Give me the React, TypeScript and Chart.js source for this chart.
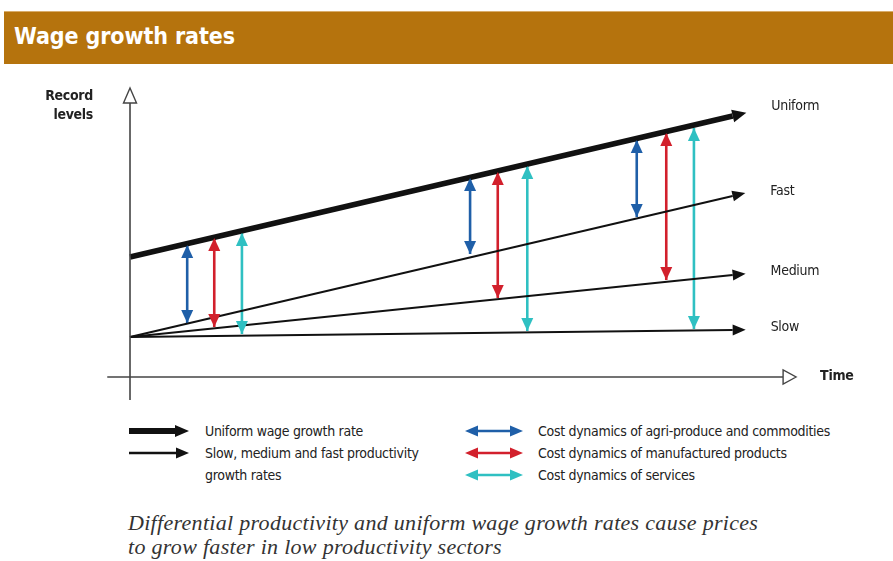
import React, { useEffect, useRef } from "react";
import { Chart, registerables } from "chart.js";

Chart.register(...registerables);

// ---- Data (conceptual units: time along x, level along y) ----
const lineNames = ["Uniform", "Fast", "Medium", "Slow"];
const lineStartX = [0, 0, 0, 0];
const lineStartY = [12, 4, 4, 4];
const lineEndX = [9.8, 9.8, 9.8, 9.8];
const lineEndY = [26.1, 18.1, 10.2, 4.7];

const sectorNames = [
  "Cost dynamics of agri-produce and commodities",
  "Cost dynamics of manufactured products",
  "Cost dynamics of services",
];
const arrowX = [
  [0.93, 5.53, 8.24],
  [1.37, 5.98, 8.72],
  [1.82, 6.46, 9.17],
];
const arrowTop = [
  [13.2, 19.9, 23.7],
  [13.9, 20.5, 24.4],
  [14.4, 21.1, 24.9],
];
const arrowBottom = [
  [5.4, 12.3, 16.0],
  [5.0, 7.9, 9.7],
  [4.3, 4.6, 4.8],
];

const yAxisRange = [-2.3, 27.4];
const xAxisRange = [-0.37, 10.62];

const lineLegend = ["Uniform wage growth rate", "Slow, medium and fast productivity", "growth rates"];

// ---- Styles ----
const SANS = '"DejaVu Sans Condensed", "Liberation Sans Narrow", "Roboto", sans-serif';
const SERIF = '"Liberation Serif", "DejaVu Serif", serif';
const sectorColors = ["#1f5fa8", "#d2202c", "#2fc0c2"];
const BAND = "#b5730d";

const arrowPlugin = {
  id: "arrowheads",
  afterDatasetsDraw(chart: any) {
    const ctx = chart.ctx;
    chart.data.datasets.forEach((ds: any, i: number) => {
      const meta = chart.getDatasetMeta(i);
      const pts = meta.data;
      if (!ds.arrow || pts.length < 2) return;
      const head = (px: number, py: number, qx: number, qy: number, extend: boolean) => {
        let dx = px - qx, dy = py - qy;
        const d = Math.hypot(dx, dy) || 1;
        dx /= d; dy /= d;
        const L = ds.headLen, W = ds.headW / 2;
        let tx, ty, bx, by;
        if (extend) { bx = px; by = py; tx = px + dx * L; ty = py + dy * L; }
        else { tx = px; ty = py; bx = px - dx * L; by = py - dy * L; }
        const nx = -dy, ny = dx;
        ctx.save();
        ctx.beginPath();
        ctx.moveTo(tx, ty);
        ctx.lineTo(bx + nx * W, by + ny * W);
        ctx.lineTo(bx - nx * W, by - ny * W);
        ctx.closePath();
        if (ds.open) {
          ctx.fillStyle = "#fff";
          ctx.fill();
          ctx.lineWidth = 1.4;
          ctx.strokeStyle = ds.borderColor;
          ctx.stroke();
        } else {
          ctx.fillStyle = ds.borderColor;
          ctx.fill();
        }
        ctx.restore();
        return { x: tx, y: ty };
      };
      const n = pts.length;
      const last = pts[n - 1], prev = pts[n - 2];
      if (ds.arrow === "both") {
        head(last.x, last.y, prev.x, prev.y, false);
        head(pts[0].x, pts[0].y, pts[1].x, pts[1].y, false);
      } else {
        const tip = head(last.x, last.y, prev.x, prev.y, true);
        if (ds.endLabel) {
          ctx.save();
          ctx.font = ds.endFont || `14px ${SANS}`;
          (ctx as any).letterSpacing = "-0.3px";
          ctx.fillStyle = "#222";
          ctx.textBaseline = "middle";
          ctx.textAlign = "left";
          ctx.fillText(ds.endLabel, tip.x + ds.labelDx, tip.y + ds.labelDy);
          ctx.restore();
        }
      }
    });
    const xs = chart.scales.x, ys = chart.scales.y;
    ctx.save();
    ctx.font = `bold 14px ${SANS}`;
    (ctx as any).letterSpacing = "-0.3px";
    ctx.fillStyle = "#222";
    ctx.textAlign = "right";
    ctx.textBaseline = "middle";
    const ax = xs.getPixelForValue(0) - 37;
    const top = ys.getPixelForValue(yAxisRange[1]);
    ctx.fillText("Record", ax, top - 7);
    ctx.fillText("levels", ax, top + 12);
    ctx.restore();
  },
};

function LegendArrow({ kind, color }: { kind: string; color: string }) {
  if (kind === "thick")
    return (
      <svg width="60" height="14" style={{ display: "block" }}>
        <line x1="0" y1="7" x2="47" y2="7" stroke={color} strokeWidth="6" />
        <polygon points="60,7 46,1 46,13" fill={color} />
      </svg>
    );
  if (kind === "thin")
    return (
      <svg width="60" height="14" style={{ display: "block" }}>
        <line x1="0" y1="7" x2="48" y2="7" stroke={color} strokeWidth="2.5" />
        <polygon points="60,7 47,1.5 47,12.5" fill={color} />
      </svg>
    );
  return (
    <svg width="58" height="14" style={{ display: "block" }}>
      <line x1="10" y1="7" x2="48" y2="7" stroke={color} strokeWidth="2.5" />
      <polygon points="0,7 13,1.5 13,12.5" fill={color} />
      <polygon points="58,7 45,1.5 45,12.5" fill={color} />
    </svg>
  );
}

export default function App() {
  const ref = useRef<HTMLCanvasElement>(null);
  useEffect(() => {
    if (!ref.current) return;
    const datasets: any[] = [];
    datasets.push({
      label: "y-axis",
      data: [{ x: 0, y: yAxisRange[0] }, { x: 0, y: yAxisRange[1] }],
      borderColor: "#444",
      borderWidth: 1.6,
      pointRadius: 0,
      arrow: "end",
      open: true,
      headLen: 15,
      headW: 13,
    });
    datasets.push({
      label: "x-axis",
      data: [{ x: xAxisRange[0], y: 0 }, { x: xAxisRange[1], y: 0 }],
      borderColor: "#444",
      borderWidth: 1.6,
      pointRadius: 0,
      arrow: "end",
      open: true,
      headLen: 13,
      headW: 14,
      endLabel: "Time",
      endFont: `bold 14px ${SANS}`,
      labelDx: 24,
      labelDy: -1,
    });
    lineNames.forEach((name, i) => {
      datasets.push({
        label: name,
        data: [
          { x: lineStartX[i], y: lineStartY[i] },
          { x: lineEndX[i], y: lineEndY[i] },
        ],
        borderColor: "#111",
        borderWidth: i === 0 ? 5.5 : 2,
        pointRadius: 0,
        arrow: "end",
        headLen: i === 0 ? 14 : 13,
        headW: i === 0 ? 13 : 11,
        endLabel: name,
        labelDx: 25,
        labelDy: i === 0 ? -6 : -2,
      });
    });
    sectorNames.forEach((name, s) => {
      arrowX[s].forEach((x, k) => {
        datasets.push({
          label: `${name} ${k + 1}`,
          data: [
            { x, y: arrowBottom[s][k] },
            { x, y: arrowTop[s][k] },
          ],
          borderColor: sectorColors[s],
          borderWidth: 2.6,
          pointRadius: 0,
          arrow: "both",
          headLen: 13,
          headW: 12,
        });
      });
    });
    const chart = new Chart(ref.current, {
      type: "line",
      data: { datasets },
      plugins: [arrowPlugin],
      options: {
        animation: false,
        responsive: true,
        maintainAspectRatio: false,
        layout: { padding: 0 },
        events: [],
        plugins: { legend: { display: false }, tooltip: { enabled: false } },
        scales: {
          x: { type: "linear", min: -2.114, max: 12.407, display: false },
          y: { type: "linear", min: -3.3, max: 30.7, display: false },
        },
      },
    } as any);
    return () => chart.destroy();
  }, []);

  const legendText: React.CSSProperties = {
    position: "absolute",
    font: `14px ${SANS}`,
    letterSpacing: "-0.3px",
    color: "#222",
    whiteSpace: "nowrap",
    lineHeight: "22px",
  };

  return (
    <div
      style={{
        position: "absolute",
        left: 0,
        top: 0,
        width: 893,
        height: 561,
        background: "#fff",
        overflow: "hidden",
      }}
    >
      <div
        style={{
          position: "absolute",
          left: 4,
          top: 11,
          width: 889,
          height: 52,
          background: BAND,
          borderTop: "1px solid #d8ad6c",
        }}
      >
        <span
          style={{
            position: "absolute",
            left: 10,
            top: 10,
            color: "#fff",
            font: `bold 23px ${SANS}`,
            letterSpacing: "-0.1px",
            lineHeight: "28px",
            whiteSpace: "nowrap",
          }}
        >
          Wage growth rates
        </span>
      </div>
      <div style={{ position: "absolute", left: 0, top: 70, width: 893, height: 340 }}>
        <canvas ref={ref} />
      </div>
      <div style={{ position: "absolute", left: 129, top: 424 }}>
        <LegendArrow kind="thick" color="#111" />
      </div>
      <div style={{ position: "absolute", left: 129, top: 446 }}>
        <LegendArrow kind="thin" color="#111" />
      </div>
      <div style={{ ...legendText, left: 205, top: 420 }}>{lineLegend[0]}</div>
      <div style={{ ...legendText, left: 205, top: 442 }}>{lineLegend[1]}</div>
      <div style={{ ...legendText, left: 205, top: 464 }}>{lineLegend[2]}</div>
      {sectorNames.map((name, s) => (
        <React.Fragment key={name}>
          <div style={{ position: "absolute", left: 465, top: 424 + s * 22 }}>
            <LegendArrow kind="double" color={sectorColors[s]} />
          </div>
          <div style={{ ...legendText, left: 538, top: 420 + s * 22 }}>{name}</div>
        </React.Fragment>
      ))}
      <div
        style={{
          position: "absolute",
          left: 128,
          top: 511,
          font: `italic 22px ${SERIF}`,
          letterSpacing: "0.3px",
          color: "#333",
          lineHeight: "24px",
          whiteSpace: "nowrap",
        }}
      >
        Differential productivity and uniform wage growth rates cause prices
        <br />
        to grow faster in low productivity sectors
      </div>
    </div>
  );
}
